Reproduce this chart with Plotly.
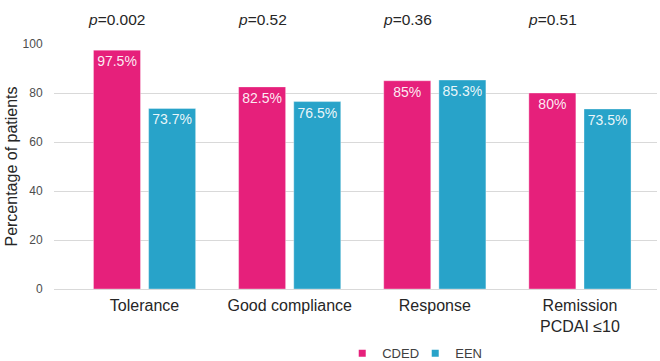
import plotly.graph_objects as go

# Outcome categories and percentages per diet group
categories = ["Tolerance", "Good compliance", "Response", "Remission<br>PCDAI ≤10"]
cded = [97.5, 82.5, 85, 80]
een = [73.7, 76.5, 85.3, 73.5]
p_values = ["0.002", "0.52", "0.36", "0.51"]
y_ticks = [0, 20, 40, 60, 80, 100]

PINK = "#E6207B"
BLUE = "#28A3C9"
FONT = "Liberation Sans, Arial, sans-serif"
BAR_W = 0.324
GAP = 0.028

fig = go.Figure()

for name, vals, color, offset in [
    ("CDED", cded, PINK, -BAR_W - GAP),
    ("EEN", een, BLUE, GAP),
]:
    fig.add_trace(go.Bar(
        x=categories,
        y=vals,
        name=name,
        width=BAR_W,
        offset=offset,
        marker=dict(color=color, line=dict(color="rgba(255,255,255,0.35)", width=1)),
        text=[f"{v:g}%" for v in vals],
        textposition="inside",
        insidetextanchor="end",
        textangle=0,
        textfont=dict(color="rgba(255,255,255,0.92)", size=14, family=FONT),
        cliponaxis=False,
        showlegend=False,
    ))
    # small square legend markers
    fig.add_trace(go.Scatter(
        x=[None], y=[None], mode="markers", name=name,
        marker=dict(symbol="square", size=7, color=color),
        showlegend=True,
    ))

for i, p in enumerate(p_values):
    fig.add_annotation(
        x=i - 0.19, y=1.102, xref="x", yref="paper",
        text=f"<i>p</i>={p}", showarrow=False,
        xanchor="center", yanchor="middle",
        font=dict(size=15.5, color="#262626", family=FONT),
    )

fig.update_layout(
    width=660, height=361,
    margin=dict(l=54, r=3, t=44, b=72, autoexpand=False),
    paper_bgcolor="white", plot_bgcolor="white",
    font=dict(family=FONT, color="#404040"),
    barmode="overlay",
    legend=dict(
        orientation="h", x=0.478, xanchor="left", y=-0.262, yanchor="middle",
        font=dict(size=13, color="#404040"), itemwidth=30,
        entrywidth=28, entrywidthmode="pixels",
        tracegroupgap=0, bgcolor="rgba(0,0,0,0)",
    ),
    xaxis=dict(
        type="category",
        range=[-0.624, 3.531],
        automargin=False,
        showgrid=False, showline=False, zeroline=False,
        ticks="outside", ticklen=2, tickcolor="rgba(0,0,0,0)",
        tickfont=dict(size=16, color="#262626", family=FONT),
    ),
    yaxis=dict(
        range=[0, 100],
        tickvals=y_ticks,
        automargin=False,
        showgrid=True, gridcolor="#D9D9D9", gridwidth=1,
        zeroline=True, zerolinecolor="#D9D9D9", zerolinewidth=1,
        showline=False,
        ticks="outside", ticklen=8, tickcolor="rgba(0,0,0,0)",
        tickfont=dict(size=12, color="#4D4D4D", family=FONT),
        title=dict(text="Percentage of patients", standoff=0,
                   font=dict(size=16, color="#262626", family=FONT)),
    ),
)

fig.write_html("out.html")
